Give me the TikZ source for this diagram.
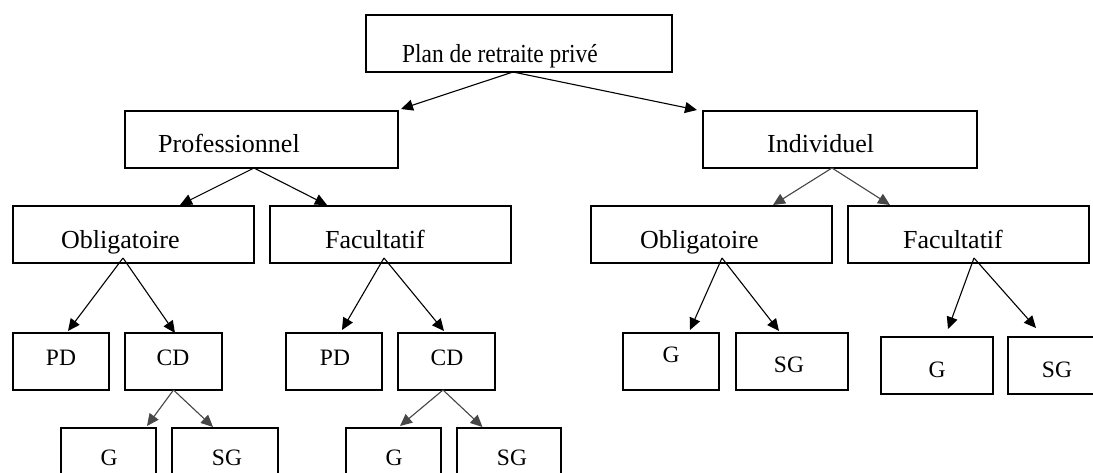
\documentclass[tikz,border=0pt]{standalone}
\usepackage{fontspec}
\setmainfont{Liberation Serif}
\usetikzlibrary{arrows.meta}
\begin{document}
\begin{tikzpicture}[x=1pt,y=-1pt,
  box/.style={draw, line width=1.2pt, inner sep=0pt, outer sep=0pt, anchor=north west},
  big/.style={inner sep=0pt, anchor=base west, font=\fontsize{26}{30}\selectfont},
  small/.style={inner sep=0pt, anchor=base, font=\fontsize{23.5}{27}\selectfont},
  arr/.style={line width=1.1pt, -{Triangle[length=12pt,width=11pt]}},
  garr/.style={arr, draw=black!72, fill=black!72}]
\path[use as bounding box, clip] (0,0) rectangle (1093,473);
% boxes
\node[box, minimum width=306pt, minimum height=57pt] (root) at (366,15) {};
\node[box, minimum width=273pt, minimum height=57pt] (prof) at (125,111) {};
\node[box, minimum width=274pt, minimum height=57pt] (indiv) at (703,111) {};
\node[box, minimum width=241pt, minimum height=57pt] (oblL) at (13,206) {};
\node[box, minimum width=241pt, minimum height=57pt] (facL) at (270,206) {};
\node[box, minimum width=241pt, minimum height=57pt] (oblR) at (591,206) {};
\node[box, minimum width=241pt, minimum height=57pt] (facR) at (848,206) {};
\node[box, minimum width=96pt, minimum height=57pt] (pdL) at (13,333) {};
\node[box, minimum width=97pt, minimum height=57pt] (cdL) at (125,333) {};
\node[box, minimum width=96pt, minimum height=57pt] (pd2) at (286,333) {};
\node[box, minimum width=97pt, minimum height=57pt] (cd2) at (398,333) {};
\node[box, minimum width=96pt, minimum height=57pt] (gR) at (623,333) {};
\node[box, minimum width=112pt, minimum height=57pt] (sgR) at (736,333) {};
\node[box, minimum width=112pt, minimum height=57pt] (gF) at (881,337) {};
\node[box, minimum width=112pt, minimum height=57pt] (sgF) at (1008,337) {};
\node[box, minimum width=95pt, minimum height=57pt] (g1) at (61,428) {};
\node[box, minimum width=106pt, minimum height=57pt] (sg1) at (172,428) {};
\node[box, minimum width=95pt, minimum height=57pt] (g2) at (346,428) {};
\node[box, minimum width=104pt, minimum height=57pt] (sg2) at (457,428) {};
% texts
\node[big] (trootx) at (402,63) {\scalebox{0.9}[1]{Plan de retraite privé}};
\node[big] (tprof) at (158,153) {Professionnel};
\node[big] (tindiv) at (767,153) {Individuel};
\node[big] (toblL) at (61,249) {Obligatoire};
\node[big] (tfacL) at (325,249) {Facultatif};
\node[big] (toblR) at (640,249) {Obligatoire};
\node[big] (tfacR) at (903,249) {Facultatif};
\node[small] (tpdL) at (61,365) {PD};
\node[small] (tcdL) at (173,365) {CD};
\node[small] (tpd2) at (335,365) {PD};
\node[small] (tcd2) at (447,365) {CD};
\node[small] (tgR) at (671,362) {G};
\node[small] (tsgR) at (789,372) {SG};
\node[small] (tgF) at (937,377) {G};
\node[small] (tsgF) at (1057,377) {SG};
\node[small] (tg1) at (109,465) {G};
\node[small] (tsg1) at (227,465) {SG};
\node[small] (tg2) at (394,465) {G};
\node[small] (tsg2) at (512,465) {SG};
% connectors
\draw[arr] ([xshift=-6pt]root.south) -- ([xshift=3pt,yshift=2pt]prof.north east);
\draw[arr] ([xshift=-6pt]root.south) -- ([xshift=-6pt,yshift=1pt]indiv.north west);
\draw[arr] ([xshift=-7.5pt]prof.south) -- ([xshift=46.5pt,yshift=1pt]oblL.north);
\draw[arr] ([xshift=-7.5pt]prof.south) -- ([xshift=-63.5pt,yshift=1pt]facL.north);
\draw[garr] ([xshift=-8pt]indiv.south) -- ([xshift=61.5pt,yshift=1pt]oblR.north);
\draw[garr] ([xshift=-8pt]indiv.south) -- ([xshift=-78.5pt,yshift=1pt]facR.north);
\draw[arr] ([xshift=-10.5pt,yshift=5pt]oblL.south) -- ([xshift=7pt,yshift=2pt]pdL.north);
\draw[arr] ([xshift=-10.5pt,yshift=5pt]oblL.south) -- ([xshift=1.5pt]cdL.north);
\draw[arr] ([xshift=-6.5pt,yshift=5pt]facL.south) -- ([xshift=8pt,yshift=3pt]pd2.north);
\draw[arr] ([xshift=-6.5pt,yshift=5pt]facL.south) -- ([xshift=-2.5pt,yshift=2pt]cd2.north);
\draw[arr] ([xshift=10.5pt,yshift=5pt]oblR.south) -- ([xshift=19pt,yshift=3pt]gR.north);
\draw[arr] ([xshift=10.5pt,yshift=5pt]oblR.south) -- ([xshift=-13pt,yshift=2pt]sgR.north);
\draw[arr] ([xshift=5.5pt,yshift=5pt]facR.south) -- ([xshift=11pt,yshift=8pt]gF.north);
\draw[arr] ([xshift=5.5pt,yshift=5pt]facR.south) -- ([xshift=-28pt,yshift=9pt]sgF.north);
\draw[garr] (cdL.south) -- ([xshift=38.5pt,yshift=2pt]g1.north);
\draw[garr] (cdL.south) -- ([xshift=-12pt,yshift=1pt]sg1.north);
\draw[garr] ([xshift=-3.5pt]cd2.south) -- ([xshift=6.5pt,yshift=2pt]g2.north);
\draw[garr] ([xshift=-3.5pt]cd2.south) -- ([xshift=-26.5pt,yshift=1pt]sg2.north);
\end{tikzpicture}
\end{document}
